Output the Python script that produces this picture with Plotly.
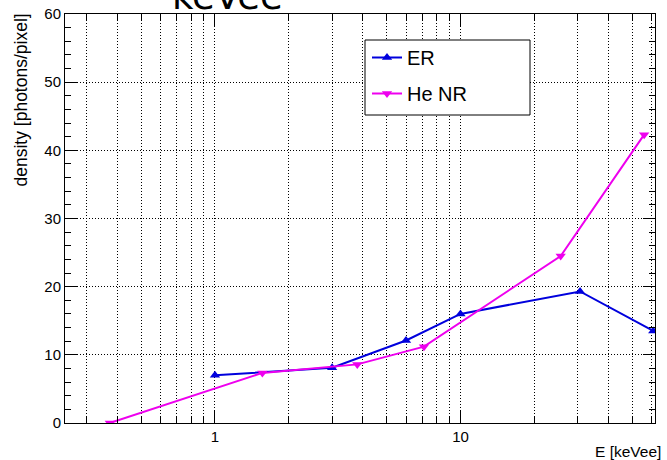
import plotly.graph_objects as go
import math

# Data
er_x = [1.0, 3.0, 6.0, 10.0, 30.7, 61.0]
er_y = [7.0, 8.1, 12.1, 16.0, 19.3, 13.5]
he_x = [0.373, 1.56, 3.8, 7.1, 25.6, 56.0]
he_y = [0.0, 7.35, 8.6, 11.2, 24.5, 42.3]

x_major = [1, 10]
x_major_text = ["1", "10"]
x_minor = [0.3, 0.4, 0.5, 0.6, 0.7, 0.8, 0.9, 2, 3, 4, 5, 6, 7, 8, 9, 20, 30, 40, 50, 60]

BLUE = "#0000dd"
MAG = "#ee00ee"

fig = go.Figure()
fig.add_trace(go.Scatter(x=er_x, y=er_y, name="ER", mode="lines+markers", legendgroup="a",
                         line=dict(color=BLUE, width=2),
                         marker=dict(symbol="triangle-up", size=9, color=BLUE)))
fig.add_trace(go.Scatter(x=he_x, y=he_y, name="He NR", mode="lines+markers", legendgroup="b",
                         line=dict(color=MAG, width=2),
                         marker=dict(symbol="triangle-down", size=9, color=MAG)))

L, R, T, B = 65, 12, 14, 37
W, H = 667, 460
pw = W - L - R
ph = H - T - B

def px_x(p):
    return (p - L) / pw

def px_y(p):
    return (H - B - p) / ph

grid = dict(showgrid=True, gridcolor="black", griddash="1px,2px", gridwidth=1)

fig.update_layout(
    width=W, height=H,
    margin=dict(l=L, r=R, t=T, b=B, autoexpand=False),
    paper_bgcolor="white", plot_bgcolor="white",
    font=dict(family="Liberation Sans, Arial, sans-serif", color="black", size=15),
    showlegend=True,
    legend=dict(x=px_x(367), y=px_y(38), xanchor="left", yanchor="top",
                borderwidth=0, bgcolor="rgba(0,0,0,0)", tracegroupgap=7,
                font=dict(size=20)),
    xaxis=dict(type="log", range=[math.log10(0.245), math.log10(62)],
               tickmode="array", tickvals=x_major, ticktext=x_major_text,
               ticks="inside", ticklen=12, tickcolor="black",
               showline=True, linecolor="black", linewidth=1, mirror="ticks",
               zeroline=False,
               minor=dict(tickmode="array", tickvals=x_minor, ticks="inside", ticklen=7,
                          tickcolor="black", **grid),
               **grid),
    yaxis=dict(range=[0, 60], tick0=0, dtick=10,
               ticks="inside", ticklen=12, tickcolor="black",
               showline=True, linecolor="black", linewidth=1, mirror="ticks",
               zeroline=False,
               minor=dict(dtick=2, ticks="inside", ticklen=6, tickcolor="black", showgrid=False),
               **grid),
)

# legend box
fig.add_shape(type="rect", xref="paper", yref="paper", layer="above",
              x0=px_x(365), x1=px_x(530), y0=px_y(115), y1=px_y(40),
              fillcolor="white", line=dict(color="black", width=1))

fig.add_annotation(text="density [photons/pixel]", textangle=-90, xref="paper", yref="paper",
                   x=px_x(20), y=px_y(12), xanchor="center", yanchor="top",
                   showarrow=False, font=dict(size=17.5))
fig.add_annotation(text="E [keVee]", xref="paper", yref="paper",
                   x=px_x(663), y=px_y(451), xanchor="right", yanchor="middle",
                   showarrow=False, font=dict(size=15.5))
fig.add_annotation(text="keVee", xref="paper", yref="paper",
                   x=px_x(227), y=px_y(20), xanchor="center", yanchor="bottom",
                   showarrow=False, font=dict(size=37, family="DejaVu Sans"))

fig.write_html("out.html", config={"displayModeBar": False},
               post_script="document.body.style.margin='0';document.body.style.overflow='hidden';")
